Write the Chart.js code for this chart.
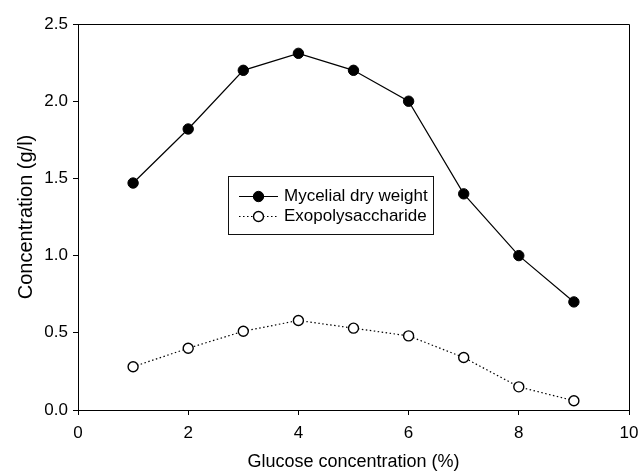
<!DOCTYPE html>
<html>
<head>
<meta charset="utf-8">
<script src="https://cdn.jsdelivr.net/npm/chart.js@4/dist/chart.umd.min.js"></script>
<style>
  html, body { margin: 0; padding: 0; background: #fff; }
  #wrap { width: 638px; height: 473px; }
</style>
</head>
<body>
<div id="wrap"><canvas id="c" width="638" height="473"></canvas></div>
<script>
const glucose = [1, 2, 3, 4, 5, 6, 7, 8, 9];
const mycelialDryWeight = [1.47, 1.82, 2.20, 2.31, 2.20, 2.00, 1.40, 1.00, 0.70];
const exopolysaccharide = [0.28, 0.40, 0.51, 0.58, 0.53, 0.48, 0.34, 0.15, 0.06];
const xTicks = [0, 2, 4, 6, 8, 10];
const yTicks = [0, 0.5, 1.0, 1.5, 2.0, 2.5];
const seriesNames = ['Mycelial dry weight', 'Exopolysaccharide'];
const xTitle = 'Glucose concentration (%)';
const yTitle = 'Concentration (g/l)';

const FONT = '"Liberation Sans", Arial, sans-serif';

const framePlugin = {
  id: 'frame',
  afterDatasetsDraw(chart) {
    const {ctx, chartArea: a} = chart;
    ctx.save();
    ctx.strokeStyle = '#000';
    ctx.lineWidth = 1;
    ctx.beginPath();
    ctx.moveTo(Math.round(a.left) + 0.5, Math.round(a.top) + 0.5);
    ctx.lineTo(Math.round(a.right) + 0.5, Math.round(a.top) + 0.5);
    ctx.lineTo(Math.round(a.right) + 0.5, Math.round(a.bottom) + 0.5);
    ctx.stroke();
    ctx.restore();
  }
};

const legendPlugin = {
  id: 'boxLegend',
  afterDraw(chart) {
    const ctx = chart.ctx;
    const box = {l: 228.5, t: 176.5, r: 433.5, b: 234.5};
    ctx.save();
    ctx.fillStyle = '#fff';
    ctx.fillRect(box.l, box.t, box.r - box.l, box.b - box.t);
    ctx.strokeStyle = '#111';
    ctx.lineWidth = 1;
    ctx.strokeRect(box.l, box.t, box.r - box.l, box.b - box.t);
    const rows = [196.5, 216.5];
    chart.data.datasets.forEach((ds, i) => {
      const y = rows[i];
      ctx.strokeStyle = ds.borderColor;
      ctx.lineWidth = ds.borderWidth;
      ctx.setLineDash(ds.borderDash || []);
      ctx.beginPath();
      ctx.moveTo(239, y);
      ctx.lineTo(278, y);
      ctx.stroke();
      ctx.setLineDash([]);
      ctx.beginPath();
      ctx.arc(258.5, y, ds.pointRadius, 0, Math.PI * 2);
      ctx.fillStyle = ds.pointBackgroundColor;
      ctx.fill();
      ctx.lineWidth = ds.pointBorderWidth;
      ctx.strokeStyle = ds.pointBorderColor;
      ctx.stroke();
      ctx.fillStyle = '#000';
      ctx.font = '17px ' + FONT;
      ctx.textBaseline = 'middle';
      ctx.textAlign = 'left';
      ctx.fillText(ds.label, 284, y);
    });
    ctx.restore();
  }
};

new Chart(document.getElementById('c'), {
  type: 'line',
  data: {
    datasets: [
      {
        label: seriesNames[0],
        data: glucose.map((g, i) => ({x: g, y: mycelialDryWeight[i]})),
        borderColor: '#000',
        borderWidth: 1.2,
        pointRadius: 5.2,
        pointBackgroundColor: '#000',
        pointBorderColor: '#000',
        pointBorderWidth: 1,
        tension: 0
      },
      {
        label: seriesNames[1],
        data: glucose.map((g, i) => ({x: g, y: exopolysaccharide[i]})),
        borderColor: '#000',
        borderWidth: 1.2,
        borderDash: [1.5, 2.5],
        pointRadius: 5,
        pointBackgroundColor: '#fff',
        pointBorderColor: '#000',
        pointBorderWidth: 1.4,
        tension: 0
      }
    ]
  },
  options: {
    responsive: false,
    animation: false,
    devicePixelRatio: 1,
    layout: { padding: { left: 0, right: 9, top: 24, bottom: 0 } },
    plugins: {
      legend: { display: false },
      tooltip: { enabled: false }
    },
    scales: {
      x: {
        type: 'linear',
        min: 0, max: 10,
        afterBuildTicks(s) { s.ticks = xTicks.map(v => ({value: v})); },
        afterFit(s) { s.height = 63; s.paddingRight = 0; s.paddingLeft = 0; },
        ticks: {
          color: '#000',
          font: { family: FONT, size: 17 },
          padding: 8,
          maxRotation: 0,
          callback: v => String(v)
        },
        grid: { display: true, drawOnChartArea: false, drawTicks: true, tickLength: 5, color: '#000', lineWidth: 1 },
        border: { display: true, color: '#000', width: 1 },
        title: {
          display: true, text: xTitle, color: '#000',
          font: { family: FONT, size: 18 },
          padding: { top: 0, bottom: 0 }
        }
      },
      y: {
        type: 'linear',
        min: 0, max: 2.5,
        afterBuildTicks(s) { s.ticks = yTicks.map(v => ({value: v})); },
        afterFit(s) { s.width = 78; },
        ticks: {
          color: '#000',
          font: { family: FONT, size: 17 },
          padding: 5,
          callback: v => Number(v).toFixed(1)
        },
        grid: { display: true, drawOnChartArea: false, drawTicks: true, tickLength: 5, color: '#000', lineWidth: 1 },
        border: { display: true, color: '#000', width: 1 },
        title: {
          display: true, text: yTitle, color: '#000',
          font: { family: FONT, size: 20 },
          padding: { top: 14, bottom: 0 }
        }
      }
    }
  },
  plugins: [framePlugin, legendPlugin]
});
</script>
</body>
</html>
